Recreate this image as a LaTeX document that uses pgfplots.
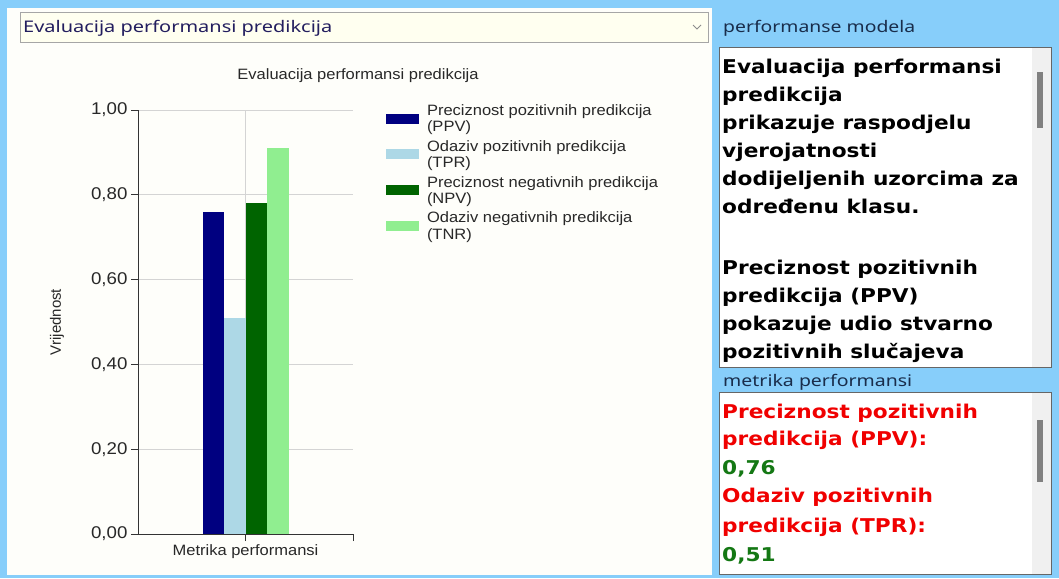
\documentclass[border=0pt]{standalone}
\usepackage{fontspec}
\setmainfont{Liberation Sans}
\newfontfamily\vfont{DejaVu Sans}
\newfontfamily\ufont{Noto Sans}
\usepackage{graphicx}
\usepackage{pgfplots}
\pgfplotsset{compat=1.18}
\definecolor{bgblue}{RGB}{135,206,250}
\definecolor{panel}{RGB}{254,254,250}
\definecolor{combo}{RGB}{255,255,240}
\definecolor{combotext}{RGB}{35,30,95}
\definecolor{hdrtext}{RGB}{25,45,75}
\definecolor{cNavy}{RGB}{0,0,128}
\definecolor{cLightBlue}{RGB}{173,216,230}
\definecolor{cDarkGreen}{RGB}{0,100,0}
\definecolor{cLightGreen}{RGB}{144,238,144}
\definecolor{cRed}{RGB}{240,0,0}
\definecolor{cGreen}{RGB}{20,120,20}
\definecolor{chtext}{RGB}{40,40,40}
\newcommand\sx[1]{\scalebox{1.1}[1]{#1}}
\newcommand\bx[1]{\scalebox{1.14}[1]{#1}}
\newcommand\bfnt{\vfont\bfseries\fontsize{19}{23}\selectfont}
\begin{document}
\begin{tikzpicture}[x=1pt,y=1pt]
\useasboundingbox (0,0) rectangle (1059,578);
\fill[bgblue] (0,0) rectangle (1059,578);
% left container
\fill[panel] (7,3) rectangle (712,570);
% combobox
\filldraw[fill=combo, draw=black!35, line width=0.8pt] (20.5,535.5) rectangle (708.5,565.5);
\node[anchor=base west, inner sep=0pt, text=combotext, font=\ufont\fontsize{16}{19}\selectfont] at (23,545) {\resizebox{309pt}{\height}{Evaluacija performansi predikcija}};
\draw[black!45, line width=0.8pt] (693,553) -- (697,549) -- (701,553);
% chart title
\node[anchor=base, inner sep=0pt, text=chtext, font=\fontsize{15}{17}\selectfont] at (358,498) {\sx{Evaluacija performansi predikcija}};
\begin{axis}[
  at={(138pt,44pt)}, anchor=south west,
  scale only axis, width=215pt, height=424pt,
  ymin=0, ymax=1, xmin=-0.5, xmax=0.5,
  axis x line=bottom, axis y line=left,
  axis line style={-, black!80, line width=0.9pt},
  ytick={0,0.2,0.4,0.6,0.8,1},
  yticklabels={{\sx{0,00}},{\sx{0,20}},{\sx{0,40}},{\sx{0,60}},{\sx{0,80}},{\sx{1,00}}},
  yticklabel style={font=\fontsize{17}{19}\selectfont, text=chtext},
  xtick={0}, xticklabels={{\sx{Metrika performansi}}},
  xticklabel style={font=\fontsize{15}{17}\selectfont, text=chtext},
  extra x ticks={0.5}, extra x tick labels={}, extra x tick style={grid=none},
  tick align=outside, major tick length=7pt,
  tick style={black!80, line width=0.9pt},
  ymajorgrids, xmajorgrids, grid style={black!17, line width=0.9pt},
  ylabel={Vrijednost},
  ylabel style={at={(axis description cs:-0.377,0.5)}, anchor=center, font=\fontsize{15}{17}\selectfont, text=chtext},
  ybar=0pt, bar width=21.5pt,
  legend style={at={(axis description cs:1.1535,1.0142)}, anchor=north west,
    draw=none, fill=none, inner sep=0pt, outer sep=0pt, row sep=6.6pt, column sep=8pt,
    font=\fontsize{15}{16.3}\selectfont, text=chtext,
    nodes={inner sep=0pt}, cells={align=left, anchor=west}},
  legend image code/.code={\fill[#1] (0pt,-5pt) rectangle (33pt,5pt);},
]
\addplot[fill=cNavy, draw=none] coordinates {(0,0.76)};
\addlegendentry{\sx{\strut Preciznost pozitivnih predikcija}\\\sx{(PPV)\strut}}
\addplot[fill=cLightBlue, draw=none] coordinates {(0,0.51)};
\addlegendentry{\sx{\strut Odaziv pozitivnih predikcija}\\\sx{(TPR)\strut}}
\addplot[fill=cDarkGreen, draw=none] coordinates {(0,0.78)};
\addlegendentry{\sx{\strut Preciznost negativnih predikcija}\\\sx{(NPV)\strut}}
\addplot[fill=cLightGreen, draw=none] coordinates {(0,0.91)};
\addlegendentry{\sx{\strut Odaziv negativnih predikcija}\\\sx{(TNR)\strut}}
\end{axis}
% right panel headers
\node[anchor=base west, inner sep=0pt, text=hdrtext, font=\ufont\fontsize{16}{19}\selectfont] at (723,545) {\resizebox{192pt}{\height}{performanse modela}};
\node[anchor=base west, inner sep=0pt, text=hdrtext, font=\ufont\fontsize{16}{19}\selectfont] at (723,191) {\resizebox{189pt}{\height}{metrika performansi}};
% box 1
\filldraw[fill=white, draw=black!60, line width=0.8pt] (719.4,210.4) rectangle (1051.6,530.6);
\fill[black!6] (1032,211) rectangle (1051.2,530.2);
\fill[black!50] (1037,450) rectangle (1043,506);
\begin{scope}
\clip (720,211) rectangle (1031,530);
\foreach \t/\yy in {Evaluacija performansi/504, predikcija/476, prikazuje raspodjelu/448, vjerojatnosti/420, dodijeljenih uzorcima za/392, određenu klasu./364, Preciznost pozitivnih/303, predikcija (PPV)/275, pokazuje udio stvarno/247, pozitivnih slučajeva/219}
  \node[anchor=base west, inner sep=0pt, text=black, font=\bfnt] at (722,\yy) {\bx{\t}};
\end{scope}
% box 2
\filldraw[fill=white, draw=black!60, line width=0.8pt] (719.4,3.4) rectangle (1051.6,185.6);
\fill[black!6] (1032,4) rectangle (1051.2,185.2);
\fill[black!50] (1037,96) rectangle (1043,158);
\begin{scope}
\clip (720,4) rectangle (1031,185);
\node[anchor=base west, inner sep=0pt, text=cRed, font=\bfnt] at (722,159) {\bx{Preciznost pozitivnih}};
\node[anchor=base west, inner sep=0pt, text=cRed, font=\bfnt] at (722,132) {\bx{predikcija (PPV):}};
\node[anchor=base west, inner sep=0pt, text=cGreen, font=\bfnt] at (722,103.5) {\bx{0,76}};
\node[anchor=base west, inner sep=0pt, text=cRed, font=\bfnt] at (722,75) {\bx{Odaziv pozitivnih}};
\node[anchor=base west, inner sep=0pt, text=cRed, font=\bfnt] at (722,46) {\bx{predikcija (TPR):}};
\node[anchor=base west, inner sep=0pt, text=cGreen, font=\bfnt] at (722,17) {\bx{0,51}};
\end{scope}
\end{tikzpicture}
\end{document}
